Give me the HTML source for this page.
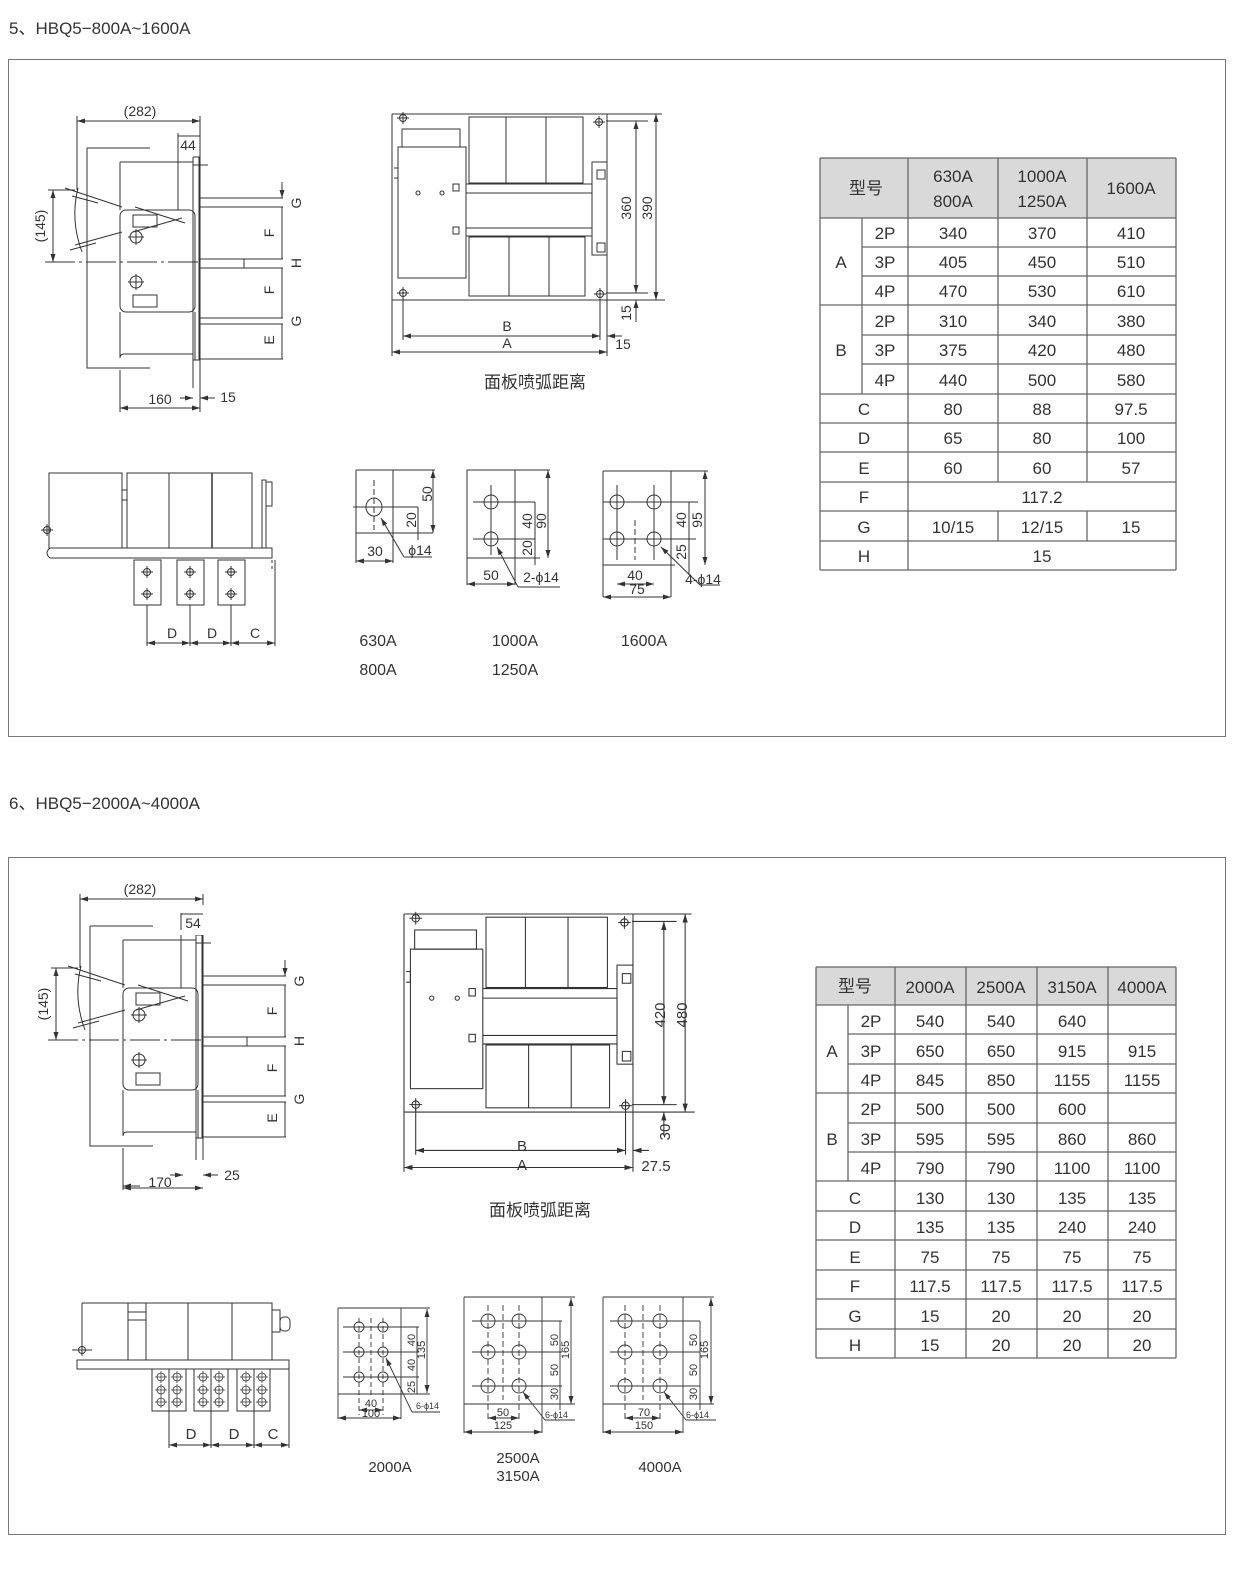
<!DOCTYPE html>
<html><head><meta charset="utf-8"><style>
html,body{margin:0;padding:0;background:#fff;}
svg{display:block;}
text{font-family:"Liberation Sans","Noto Sans CJK SC",sans-serif;fill:#333;}
</style></head><body>
<svg width="1239" height="1570" viewBox="0 0 1239 1570" xmlns="http://www.w3.org/2000/svg" xmlns:xlink="http://www.w3.org/1999/xlink">
<defs>
<marker id="a" markerWidth="8" markerHeight="6" refX="8" refY="3" orient="auto" markerUnits="userSpaceOnUse"><path d="M0,0.5 L8,3 L0,5.5 z" fill="#333"/></marker>
<marker id="b" markerWidth="8" markerHeight="6" refX="0" refY="3" orient="auto" markerUnits="userSpaceOnUse"><path d="M8,0.5 L0,3 L8,5.5 z" fill="#333"/></marker>
<g id="ch"><circle r="3.5" fill="none" stroke="#333"/><path d="M-6,0H6M0,-6V6" stroke="#333"/></g>
<g id="hole"><circle r="4" fill="none" stroke="#333" stroke-width="0.8"/><path d="M-6,0H6M0,-6V6" stroke="#333" stroke-width="0.7"/></g>
</defs>

<!-- SIDE VIEW -->
<g id="side" fill="none" stroke="#333" stroke-width="1">
<path d="M77,121H200" marker-start="url(#b)" marker-end="url(#a)"/>
<path d="M77,116V190M200,116V412"/>
<path d="M178,133V210M178,136H200" />
<path d="M87,148H150M87,148V368H150"/>
<path d="M120,162H193M120,162V210"/>
<path d="M193,157H199V360H193V157"/>
<path d="M193,165H208"/>
<rect x="120" y="210" width="75" height="102" rx="6"/>
<path d="M120,312V358M195,312V360M124,354H193M120,358 Q120,354 124,354"/>
<path d="M193,360H200M193,360V388"/>
<path d="M120,370V410" stroke-dasharray="6,4"/>
<path d="M200,198H283M200,207H283M200,259H283M200,268H283M244,259V268M200,318H283M200,324H283M200,359H283"/>
<path d="M282,182V198" marker-end="url(#a)"/>
<path d="M282,207V259M282,268V318M282,324V359"/>
<path d="M45,262H198" stroke-dasharray="30,4,3,4"/>
<path d="M48,190H75M48,262H70"/>
<path d="M53,190V262" marker-start="url(#b)" marker-end="url(#a)"/>
<path d="M65,188L122,207M72,196L98,203M75,245L122,232M70,250L96,243"/>
<path d="M135,207L185,223M133,232L182,218"/>
<path d="M78,188 Q70,220 82,252"/>
<circle cx="136" cy="237" r="6"/><path d="M128,237H144M136,229V245"/>
<circle cx="136" cy="282" r="6"/><path d="M128,282H144M136,274V290"/>
<rect x="133" y="215" width="24" height="12"/>
<rect x="133" y="295" width="24" height="12"/>
<path d="M120,375V412"/>
<path d="M120,408H200" marker-start="url(#b)" marker-end="url(#a)"/>
<path d="M180,398H193" marker-end="url(#a)"/>
<path d="M215,398H200" marker-end="url(#a)"/>
</g>
<g id="sidelbl" font-size="14" text-anchor="middle">
<text transform="translate(301,203) rotate(-90)">G</text>
<text transform="translate(274,233) rotate(-90)">F</text>
<text transform="translate(301,263) rotate(-90)">H</text>
<text transform="translate(274,290) rotate(-90)">F</text>
<text transform="translate(301,321) rotate(-90)">G</text>
<text transform="translate(274,340) rotate(-90)">E</text>
<text transform="translate(45,226) rotate(-90)">(145)</text>
</g>

<!-- FRONT VIEW -->
<g id="front" fill="none" stroke="#333" stroke-width="1">
<path d="M392,114H607M392,114V356M607,114V356M392,300H665"/>
<path d="M394,168H398V178H394"/>
<rect x="402" y="129" width="58" height="18"/>
<rect x="398" y="147" width="68" height="131"/>
<rect x="469" y="117" width="114" height="66"/>
<path d="M506,117V183M546,117V183"/>
<rect x="469" y="237" width="116" height="59"/>
<path d="M509,237V296M549,237V296"/>
<path d="M466,184H592M466,193H592M466,228H592M466,236H592"/>
<rect x="592" y="162" width="15" height="93"/>
<rect x="597" y="170" width="8" height="9"/><rect x="597" y="243" width="8" height="9"/>
<rect x="453" y="184" width="6" height="7"/><rect x="453" y="227" width="6" height="7"/>
<circle cx="418" cy="193" r="2"/><circle cx="442" cy="193" r="2"/>
<use href="#ch" xlink:href="#ch" x="403" y="118"/><use href="#ch" xlink:href="#ch" x="599" y="122"/>
<use href="#ch" xlink:href="#ch" x="403" y="293"/><use href="#ch" xlink:href="#ch" x="600" y="294"/>
<path d="M403,296V340M600,298V340"/>
<path d="M606,121H648M606,293H648M607,114H662"/>
<path d="M636,121V293" marker-start="url(#b)" marker-end="url(#a)"/>
<path d="M656,114V300" marker-start="url(#b)" marker-end="url(#a)"/>
<path d="M636,322V300" marker-end="url(#a)"/>
<path d="M403,336H600" marker-start="url(#b)" marker-end="url(#a)"/>
<path d="M392,352H607" marker-start="url(#b)" marker-end="url(#a)"/>
<path d="M622,336H607" marker-end="url(#a)"/>
</g>

<!-- Section 5 texts -->
<text x="9" y="34" font-size="17">5、HBQ5−800A~1600A</text>
<rect x="8.5" y="59.5" width="1217" height="677" fill="none" stroke="#777"/>
<g font-size="14" text-anchor="middle">
<text x="140" y="116">(282)</text>
<text x="188" y="150">44</text>
<text x="160" y="404">160</text>
<text x="228" y="402">15</text>
<text transform="translate(631,208) rotate(-90)">360</text>
<text transform="translate(652,208) rotate(-90)">390</text>
<text transform="translate(631,313) rotate(-90)">15</text>
<text x="507" y="331">B</text>
<text x="507" y="348">A</text>
<text x="623" y="349">15</text>
</g>
<text x="535" y="388" font-size="17" text-anchor="middle">面板喷弧距离</text>

<!-- Section 5 bottom side view -->
<g fill="none" stroke="#333">
<rect x="49" y="473" width="73" height="75"/>
<path d="M122,490H127M122,500H127"/>
<rect x="127" y="473" width="125" height="75"/>
<path d="M169,473V548"/>
<path d="M212,473V548" stroke-width="1.5"/>
<rect x="262" y="480" width="4" height="68"/><rect x="266" y="482" width="6" height="24"/>
<path d="M50,548H272V558H50 Q44,553 50,548"/>
<path d="M272,548V570" stroke-dasharray="3,3"/>
<use href="#ch" xlink:href="#ch" x="47" y="530"/>
<rect x="134" y="560" width="27" height="45"/>
<rect x="177" y="560" width="27" height="45"/>
<rect x="218" y="560" width="27" height="45"/>
<use href="#ch" xlink:href="#ch" x="147" y="572"/><use href="#ch" xlink:href="#ch" x="147" y="594"/>
<use href="#ch" xlink:href="#ch" x="190" y="572"/><use href="#ch" xlink:href="#ch" x="190" y="594"/>
<use href="#ch" xlink:href="#ch" x="231" y="572"/><use href="#ch" xlink:href="#ch" x="231" y="594"/>
<path d="M147,605V646M190,605V646M231,605V646M275,560V646"/>
<path d="M147,643H190" marker-start="url(#b)" marker-end="url(#a)"/>
<path d="M190,643H231" marker-start="url(#b)" marker-end="url(#a)"/>
<path d="M231,643H275" marker-start="url(#b)" marker-end="url(#a)"/>
</g>
<g font-size="14" text-anchor="middle"><text x="172" y="638">D</text><text x="212" y="638">D</text><text x="255" y="638">C</text></g>

<!-- Section 5 plates -->
<g fill="none" stroke="#333">
<path d="M356,470H435M356,470V563M393,470V563M356,533H433"/>
<ellipse cx="374" cy="507" rx="8" ry="9"/>
<path d="M374,480V530" stroke-dasharray="6,3"/>
<path d="M353,507H418"/>
<path d="M433,470V533" marker-start="url(#b)" marker-end="url(#a)"/>
<path d="M418,507V540" />
<path d="M356,561H393" marker-start="url(#b)" marker-end="url(#a)"/>
<path d="M404,557L381,518" marker-end="url(#a)"/><path d="M404,557H432"/>
<path d="M467,470H550M467,470V585M515,470V585M467,558H540"/>
<circle cx="491" cy="502" r="7"/><circle cx="491" cy="539" r="7"/>
<path d="M473,502H535M473,539H535M491,485V555"/>
<path d="M548,470V558" marker-start="url(#b)" marker-end="url(#a)"/>
<path d="M535,502V565"/>
<path d="M467,584H515" marker-start="url(#b)" marker-end="url(#a)"/>
<path d="M518,587L497,547" marker-end="url(#a)"/><path d="M518,587H560"/>
<path d="M603,471H708M603,471V597M671,471V597M603,565H675"/>
<circle cx="617" cy="502" r="7"/><circle cx="654" cy="502" r="7"/>
<circle cx="617" cy="539" r="7"/><circle cx="654" cy="539" r="7"/>
<path d="M603,502H698M603,539H696M617,485V560M654,485V560"/>
<path d="M635,520V560" stroke-dasharray="6,3"/>
<path d="M705,471V565" marker-start="url(#b)" marker-end="url(#a)"/>
<path d="M689,502V575"/>
<path d="M617,584H654" marker-start="url(#b)" marker-end="url(#a)"/>
<path d="M603,597H671" marker-start="url(#b)" marker-end="url(#a)"/>
<path d="M700,585L661,547" marker-end="url(#a)"/><path d="M700,585H720"/>
</g>
<g font-size="14" text-anchor="middle">
<text transform="translate(432,494) rotate(-90)">50</text>
<text transform="translate(416,520) rotate(-90)">20</text>
<text x="375" y="556">30</text>
<text x="420" y="555">ϕ14</text>
<text transform="translate(532,521) rotate(-90)">40</text>
<text transform="translate(546,521) rotate(-90)">90</text>
<text transform="translate(532,548) rotate(-90)">20</text>
<text x="491" y="580">50</text>
<text x="541" y="582">2-ϕ14</text>
<text transform="translate(686,520) rotate(-90)">40</text>
<text transform="translate(702,520) rotate(-90)">95</text>
<text transform="translate(686,552) rotate(-90)">25</text>
<text x="635" y="580">40</text>
<text x="637" y="594">75</text>
<text x="703" y="584">4-ϕ14</text>
</g>
<g font-size="16" text-anchor="middle">
<text x="378" y="646">630A</text><text x="378" y="675">800A</text>
<text x="515" y="646">1000A</text><text x="515" y="675">1250A</text>
<text x="644" y="646">1600A</text>
</g>

<!-- Table 1 -->
<rect x="820" y="158" width="356" height="60" fill="#d9d9d9"/>
<g stroke="#666" stroke-width="1.3" fill="none">
<path d="M820,158H1176M820,218H1176M820,305H1176M820,394H1176M820,423H1176M820,452H1176M820,482H1176M820,511H1176M820,541H1176M820,570H1176"/>
<path d="M862,247H1176M862,276H1176M862,335H1176M862,364H1176"/>
<path d="M820,158V570M1176,158V570M908,158V570M862,218V394"/>
<path d="M998,158V482M1087,158V482M998,511V541M1087,511V541"/>
</g>
<g font-size="17" text-anchor="middle">
<text x="866" y="194">型号</text>
<text x="953" y="182">630A</text><text x="953" y="207">800A</text>
<text x="1042" y="182">1000A</text><text x="1042" y="207">1250A</text>
<text x="1131" y="194">1600A</text>
<text x="841" y="268">A</text><text x="841" y="356">B</text>
<text x="885" y="239">2P</text><text x="885" y="268">3P</text><text x="885" y="297">4P</text>
<text x="885" y="327">2P</text><text x="885" y="356">3P</text><text x="885" y="386">4P</text>
<text x="953" y="239">340</text><text x="1042" y="239">370</text><text x="1131" y="239">410</text>
<text x="953" y="268">405</text><text x="1042" y="268">450</text><text x="1131" y="268">510</text>
<text x="953" y="297">470</text><text x="1042" y="297">530</text><text x="1131" y="297">610</text>
<text x="953" y="327">310</text><text x="1042" y="327">340</text><text x="1131" y="327">380</text>
<text x="953" y="356">375</text><text x="1042" y="356">420</text><text x="1131" y="356">480</text>
<text x="953" y="386">440</text><text x="1042" y="386">500</text><text x="1131" y="386">580</text>
<text x="864" y="415">C</text><text x="953" y="415">80</text><text x="1042" y="415">88</text><text x="1131" y="415">97.5</text>
<text x="864" y="444">D</text><text x="953" y="444">65</text><text x="1042" y="444">80</text><text x="1131" y="444">100</text>
<text x="864" y="474">E</text><text x="953" y="474">60</text><text x="1042" y="474">60</text><text x="1131" y="474">57</text>
<text x="864" y="503">F</text><text x="1042" y="503">117.2</text>
<text x="864" y="533">G</text><text x="953" y="533">10/15</text><text x="1042" y="533">12/15</text><text x="1131" y="533">15</text>
<text x="864" y="562">H</text><text x="1042" y="562">15</text>
</g>

<!-- Section 6 -->
<text x="9" y="809" font-size="17">6、HBQ5−2000A~4000A</text>
<rect x="8.5" y="857.5" width="1217" height="677" fill="none" stroke="#777"/>

<use href="#side" xlink:href="#side" transform="translate(3,778)"/>
<use href="#sidelbl" xlink:href="#sidelbl" transform="translate(3,778)"/>
<rect x="178" y="905" width="30" height="30" fill="#fff"/>
<rect x="140" y="1160" width="110" height="30" fill="#fff"/>
<g fill="none" stroke="#333">
<path d="M123,1188H203" marker-start="url(#b)" marker-end="url(#a)"/>
<path d="M170,1175H183" marker-end="url(#a)"/><path d="M218,1175H203" marker-end="url(#a)"/>
<path d="M181,913V930M181,914H203"/>
</g>
<g font-size="14" text-anchor="middle">
<text x="140" y="894">(282)</text>
<text x="193" y="928">54</text>
<text x="160" y="1187">170</text>
<text x="232" y="1180">25</text>
</g>

<g transform="translate(404,914) scale(1.065) translate(-392,-114)">
<use href="#front" xlink:href="#front"/>
</g>
<g font-size="15" text-anchor="middle">
<text transform="translate(665,1015) rotate(-90)">420</text>
<text transform="translate(687,1015) rotate(-90)">480</text>
<text transform="translate(670,1132) rotate(-90)">30</text>
<text x="522" y="1151">B</text>
<text x="522" y="1170">A</text>
<text x="656" y="1171">27.5</text>
</g>
<text x="540" y="1216" font-size="17" text-anchor="middle">面板喷弧距离</text>

<!-- Section 6 bottom side view -->
<g fill="none" stroke="#333">
<path d="M82,1303H135M82,1303V1352"/>
<use href="#ch" xlink:href="#ch" x="82" y="1350"/><path d="M72,1350H92"/>
<rect x="128" y="1303" width="18" height="57"/>
<path d="M128,1312H146M128,1320H146"/>
<rect x="146" y="1303" width="126" height="57"/>
<path d="M188,1303V1360M232,1303V1360"/>
<rect x="272" y="1310" width="8" height="22"/><rect x="280" y="1317" width="10" height="14" rx="4"/>
<rect x="77" y="1360" width="212" height="9"/>
<rect x="152" y="1369" width="34" height="42"/><path d="M169,1369V1411"/>
<rect x="194" y="1369" width="34" height="42"/><path d="M211,1369V1411"/>
<rect x="237" y="1369" width="33" height="42"/><path d="M254,1369V1411"/>
<path d="M169,1411V1448M211,1411V1448M254,1411V1448M289,1369V1448"/>
<path d="M169,1445H211" marker-start="url(#b)" marker-end="url(#a)"/>
<path d="M211,1445H254" marker-start="url(#b)" marker-end="url(#a)"/>
<path d="M254,1445H289" marker-start="url(#b)" marker-end="url(#a)"/>
</g>
<g>
<use href="#hole" xlink:href="#hole" x="161" y="1377"/><use href="#hole" xlink:href="#hole" x="177" y="1377"/><use href="#hole" xlink:href="#hole" x="161" y="1390"/><use href="#hole" xlink:href="#hole" x="177" y="1390"/><use href="#hole" xlink:href="#hole" x="161" y="1402"/><use href="#hole" xlink:href="#hole" x="177" y="1402"/>
<use href="#hole" xlink:href="#hole" x="203" y="1377"/><use href="#hole" xlink:href="#hole" x="219" y="1377"/><use href="#hole" xlink:href="#hole" x="203" y="1390"/><use href="#hole" xlink:href="#hole" x="219" y="1390"/><use href="#hole" xlink:href="#hole" x="203" y="1402"/><use href="#hole" xlink:href="#hole" x="219" y="1402"/>
<use href="#hole" xlink:href="#hole" x="246" y="1377"/><use href="#hole" xlink:href="#hole" x="262" y="1377"/><use href="#hole" xlink:href="#hole" x="246" y="1390"/><use href="#hole" xlink:href="#hole" x="262" y="1390"/><use href="#hole" xlink:href="#hole" x="246" y="1402"/><use href="#hole" xlink:href="#hole" x="262" y="1402"/>
</g>
<g font-size="15" text-anchor="middle"><text x="191" y="1439">D</text><text x="234" y="1439">D</text><text x="273" y="1439">C</text></g>

<!-- Section 6 plates -->
<g fill="none" stroke="#333" stroke-width="0.9">
<path d="M338,1308H430M338,1308V1419M401,1308V1419M338,1394H430"/>
<circle cx="359" cy="1327" r="5"/><circle cx="383" cy="1327" r="5"/>
<circle cx="359" cy="1352" r="5"/><circle cx="383" cy="1352" r="5"/>
<circle cx="359" cy="1377" r="5"/><circle cx="383" cy="1377" r="5"/>
<path d="M343,1327H419M343,1352H419M343,1377H419"/>
<path d="M359,1318V1415M383,1318V1415M371,1318V1395" stroke-dasharray="5,3"/>
<path d="M427,1309V1393" marker-start="url(#b)" marker-end="url(#a)"/>
<path d="M417,1327V1394"/>
<path d="M359,1410H383" marker-start="url(#b)" marker-end="url(#a)"/>
<path d="M338,1418H401" marker-start="url(#b)" marker-end="url(#a)"/>
<path d="M412,1412L386,1358" marker-end="url(#a)"/><path d="M412,1412H440"/>
<path d="M464,1297H575M464,1297V1433M542,1297V1433M464,1404H575"/>
<circle cx="488" cy="1321" r="7"/><circle cx="519" cy="1321" r="7"/>
<circle cx="488" cy="1352" r="7"/><circle cx="519" cy="1352" r="7"/>
<circle cx="488" cy="1386" r="7"/><circle cx="519" cy="1386" r="7"/>
<path d="M472,1321H562M472,1352H562M472,1386H562"/>
<path d="M488,1305V1420M519,1305V1420M503,1305V1400" stroke-dasharray="6,3"/>
<path d="M571,1298V1404" marker-start="url(#b)" marker-end="url(#a)"/>
<path d="M560,1321V1410"/>
<path d="M488,1418H519" marker-start="url(#b)" marker-end="url(#a)"/>
<path d="M464,1432H542" marker-start="url(#b)" marker-end="url(#a)"/>
<path d="M545,1420L523,1392" marker-end="url(#a)"/><path d="M545,1420H575"/>
<path d="M603,1297H714M603,1297V1433M683,1297V1433M603,1404H714"/>
<circle cx="625" cy="1321" r="7"/><circle cx="660" cy="1321" r="7"/>
<circle cx="625" cy="1352" r="7"/><circle cx="660" cy="1352" r="7"/>
<circle cx="625" cy="1386" r="7"/><circle cx="660" cy="1386" r="7"/>
<path d="M610,1321H700M610,1352H700M610,1386H700"/>
<path d="M625,1305V1420M660,1305V1420M643,1305V1400" stroke-dasharray="6,3"/>
<path d="M711,1298V1404" marker-start="url(#b)" marker-end="url(#a)"/>
<path d="M700,1321V1410"/>
<path d="M625,1418H660" marker-start="url(#b)" marker-end="url(#a)"/>
<path d="M603,1432H683" marker-start="url(#b)" marker-end="url(#a)"/>
<path d="M686,1420L664,1392" marker-end="url(#a)"/><path d="M686,1420H716"/>
</g>
<g font-size="11" text-anchor="middle">
<text transform="translate(415,1340) rotate(-90)">40</text>
<text transform="translate(415,1365) rotate(-90)">40</text>
<text transform="translate(415,1387) rotate(-90)">25</text>
<text transform="translate(425,1350) rotate(-90)">135</text>
<text x="371" y="1407">40</text><text x="371" y="1417">100</text>
<text transform="translate(558,1340) rotate(-90)">50</text>
<text transform="translate(558,1370) rotate(-90)">50</text>
<text transform="translate(558,1394) rotate(-90)">30</text>
<text transform="translate(569,1350) rotate(-90)">165</text>
<text x="503" y="1416">50</text><text x="503" y="1429">125</text>
<text transform="translate(697,1340) rotate(-90)">50</text>
<text transform="translate(697,1370) rotate(-90)">50</text>
<text transform="translate(697,1394) rotate(-90)">30</text>
<text transform="translate(708,1350) rotate(-90)">165</text>
<text x="644" y="1416">70</text><text x="644" y="1429">150</text>
</g>
<g font-size="9">
<text x="416" y="1409">6-ϕ14</text>
<text x="545" y="1418">6-ϕ14</text>
<text x="686" y="1418">6-ϕ14</text>
</g>
<g font-size="15" text-anchor="middle">
<text x="390" y="1472">2000A</text>
<text x="518" y="1463">2500A</text><text x="518" y="1481">3150A</text>
<text x="660" y="1472">4000A</text>
</g>

<!-- Table 2 -->
<rect x="816" y="967" width="360" height="38" fill="#d9d9d9"/>
<g stroke="#666" stroke-width="1.3" fill="none">
<path d="M816,967H1176M816,1005H1176M816,1093H1176M816,1181H1176M816,1211H1176M816,1240H1176M816,1270H1176M816,1299H1176M816,1329H1176M816,1358H1176"/>
<path d="M848,1034H1176M848,1064H1176M848,1123H1176M848,1152H1176"/>
<path d="M816,967V1358M1176,967V1358M848,1005V1181M895,967V1358M966,967V1358M1037,967V1358M1108,967V1358"/>
</g>
<g font-size="17" text-anchor="middle">
<text x="855" y="992">型号</text>
<text x="930" y="993">2000A</text><text x="1001" y="993">2500A</text><text x="1072" y="993">3150A</text><text x="1142" y="993">4000A</text>
<text x="832" y="1057">A</text><text x="832" y="1145">B</text>
<text x="871" y="1027">2P</text><text x="871" y="1057">3P</text><text x="871" y="1086">4P</text>
<text x="871" y="1115">2P</text><text x="871" y="1145">3P</text><text x="871" y="1174">4P</text>
<text x="930" y="1027">540</text><text x="1001" y="1027">540</text><text x="1072" y="1027">640</text>
<text x="930" y="1057">650</text><text x="1001" y="1057">650</text><text x="1072" y="1057">915</text><text x="1142" y="1057">915</text>
<text x="930" y="1086">845</text><text x="1001" y="1086">850</text><text x="1072" y="1086">1155</text><text x="1142" y="1086">1155</text>
<text x="930" y="1115">500</text><text x="1001" y="1115">500</text><text x="1072" y="1115">600</text>
<text x="930" y="1145">595</text><text x="1001" y="1145">595</text><text x="1072" y="1145">860</text><text x="1142" y="1145">860</text>
<text x="930" y="1174">790</text><text x="1001" y="1174">790</text><text x="1072" y="1174">1100</text><text x="1142" y="1174">1100</text>
<text x="855" y="1204">C</text><text x="930" y="1204">130</text><text x="1001" y="1204">130</text><text x="1072" y="1204">135</text><text x="1142" y="1204">135</text>
<text x="855" y="1233">D</text><text x="930" y="1233">135</text><text x="1001" y="1233">135</text><text x="1072" y="1233">240</text><text x="1142" y="1233">240</text>
<text x="855" y="1263">E</text><text x="930" y="1263">75</text><text x="1001" y="1263">75</text><text x="1072" y="1263">75</text><text x="1142" y="1263">75</text>
<text x="855" y="1292">F</text><text x="930" y="1292">117.5</text><text x="1001" y="1292">117.5</text><text x="1072" y="1292">117.5</text><text x="1142" y="1292">117.5</text>
<text x="855" y="1322">G</text><text x="930" y="1322">15</text><text x="1001" y="1322">20</text><text x="1072" y="1322">20</text><text x="1142" y="1322">20</text>
<text x="855" y="1351">H</text><text x="930" y="1351">15</text><text x="1001" y="1351">20</text><text x="1072" y="1351">20</text><text x="1142" y="1351">20</text>
</g>
</svg>
</body></html>
